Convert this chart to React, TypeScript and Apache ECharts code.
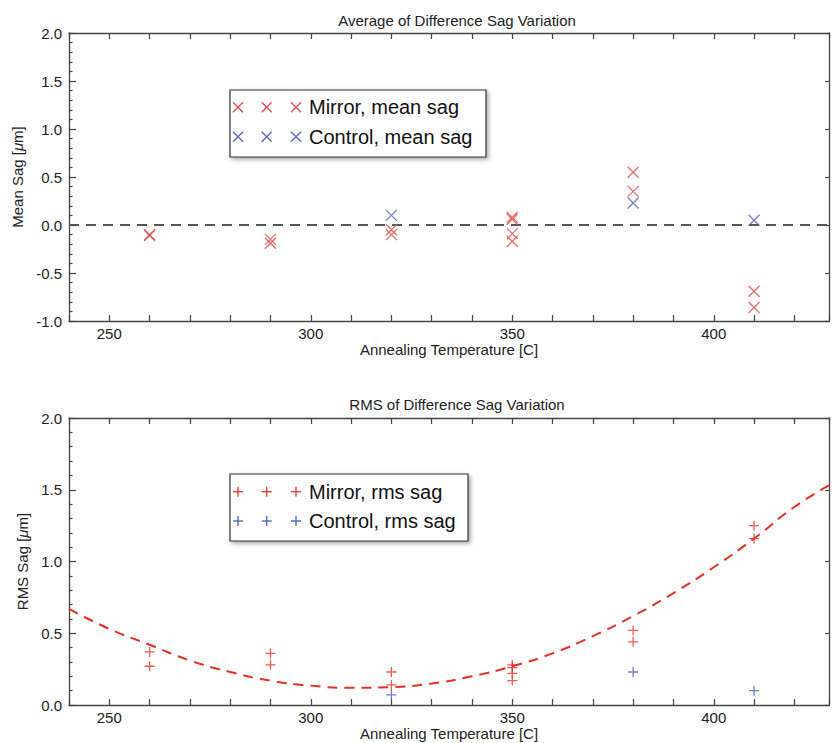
import React, { useEffect, useRef } from 'react';
import * as echarts from 'echarts';

const FONT = '"Liberation Sans", Arial, Helvetica, sans-serif';

// Top panel: mean sag
const mirrorMeanX = [260, 260, 290, 290, 320, 320, 350, 350, 350, 350, 380, 380, 410, 410];
const mirrorMeanY = [-0.10, -0.11, -0.15, -0.19, -0.05, -0.10, 0.08, 0.06, -0.09, -0.17, 0.55, 0.35, -0.69, -0.86];
const controlMeanX = [320, 380, 410];
const controlMeanY = [0.10, 0.23, 0.05];

// Bottom panel: rms sag
const mirrorRmsX = [260, 260, 290, 290, 320, 320, 350, 350, 350, 350, 380, 380, 410, 410];
const mirrorRmsY = [0.37, 0.27, 0.36, 0.28, 0.23, 0.14, 0.28, 0.26, 0.22, 0.17, 0.52, 0.44, 1.25, 1.16];
const controlRmsX = [320, 380, 410];
const controlRmsY = [0.07, 0.23, 0.10];

// Fitted curve
const fitX = [240, 250, 260, 270, 280, 290, 300, 310, 320, 330, 340, 350, 360, 370, 380, 390, 400, 410, 420, 428.6];
const fitY = [0.67, 0.53, 0.42, 0.31, 0.23, 0.17, 0.135, 0.12, 0.125, 0.15, 0.2, 0.27, 0.36, 0.48, 0.62, 0.78, 0.96, 1.16, 1.38, 1.53];

const titles = ['Average of Difference Sag Variation', 'RMS of Difference Sag Variation'];
const xName = 'Annealing Temperature [C]';
const legendTop = ['Mirror, mean sag', 'Control, mean sag'];
const legendBottom = ['Mirror, rms sag', 'Control, rms sag'];

const X_MIN = 240;
const X_MAX = 428.6;

const RED_X = '#e04848';
const BLUE_X = '#5a62b5';
const RED_P = '#e8332c';
const BLUE_P = '#4563b8';

const CROSS = 'path://M0,0L10,10M10,0L0,10';
const PLUS = 'path://M5,0L5,10M0,5L10,5';

const zip = (xs: number[], ys: number[]) => xs.map((x, i) => [x, ys[i]]);

function legendGraphic(
  x: number, y: number, w: number, h: number,
  rowYs: number[], labels: string[], colors: string[], kind: 'x' | '+'
) {
  const els: any[] = [];
  els.push({
    type: 'rect',
    shape: { x, y, width: w, height: h },
    style: {
      fill: '#fff', stroke: '#333', lineWidth: 1.2,
      shadowBlur: 4, shadowOffsetX: 2, shadowOffsetY: 2, shadowColor: 'rgba(0,0,0,0.35)',
    },
    z: 100,
  });
  const mx = [238, 266.7, 296];
  const s = 5;
  rowYs.forEach((ry, r) => {
    mx.forEach((cx) => {
      const segs = kind === 'x'
        ? [[cx - s, ry - s, cx + s, ry + s], [cx + s, ry - s, cx - s, ry + s]]
        : [[cx - s, ry, cx + s, ry], [cx, ry - s, cx, ry + s]];
      segs.forEach((sg) => {
        els.push({
          type: 'line',
          shape: { x1: sg[0], y1: sg[1], x2: sg[2], y2: sg[3] },
          style: { stroke: colors[r], lineWidth: 1.3 },
          z: 101,
        });
      });
    });
    els.push({
      type: 'text',
      x: 309, y: ry,
      style: {
        text: labels[r], fill: '#111', font: `20px ${FONT}`,
        verticalAlign: 'middle', align: 'left',
      },
      z: 101,
    });
  });
  return els;
}

export default function App() {
  const ref = useRef<HTMLDivElement>(null);
  useEffect(() => {
    const chart = echarts.init(ref.current!, null, { renderer: 'svg' });
    const axisLine = { show: true, onZero: false, lineStyle: { color: '#444', width: 1.3 } };
    const tickStyle = { color: '#444', width: 1.2 };
    const labelStyle = { fontFamily: FONT, fontSize: 15, color: '#222' };

    const xBottom = (grid: number) => ({
      type: 'value', gridIndex: grid, position: 'bottom', min: X_MIN, max: X_MAX, interval: 10,
      axisLine, splitLine: { show: false },
      axisTick: { inside: true, length: 6, lineStyle: tickStyle },
      axisLabel: {
        ...labelStyle, margin: 5,
        formatter: (v: number) => (Math.abs(v % 50) < 1e-6 ? String(v) : ''),
      },
      name: xName, nameLocation: 'middle', nameGap: 19,
      nameTextStyle: { ...labelStyle },
    });
    const xTop = (grid: number) => ({
      type: 'value', gridIndex: grid, position: 'top', min: X_MIN, max: X_MAX, interval: 10,
      axisLine, splitLine: { show: false },
      axisTick: { inside: true, length: 6, lineStyle: tickStyle },
      axisLabel: { show: false },
    });
    const yLeft = (grid: number, min: number, name: string, gap: number) => ({
      type: 'value', gridIndex: grid, position: 'left', min, max: 2, interval: 0.5,
      axisLine, splitLine: { show: false },
      axisTick: { inside: true, length: 7, lineStyle: tickStyle },
      minorTick: { show: true, splitNumber: 5, length: 3.5, lineStyle: tickStyle },
      minorSplitLine: { show: false },
      axisLabel: { ...labelStyle, margin: 7, formatter: (v: number) => v.toFixed(1) },
      name, nameLocation: 'middle', nameGap: gap,
      nameTextStyle: {
        ...labelStyle,
        rich: {
          a: { fontFamily: FONT, fontSize: 15, color: '#222' },
          b: { fontFamily: FONT, fontSize: 15, color: '#222', fontStyle: 'italic' },
        },
      },
    });
    const yRight = (grid: number, min: number) => ({
      type: 'value', gridIndex: grid, position: 'right', min, max: 2, interval: 0.5,
      axisLine, splitLine: { show: false },
      axisTick: { inside: true, length: 4, lineStyle: tickStyle },
      axisLabel: { show: false },
    });

    const scatter = (xi: number, data: number[][], symbol: string, color: string, size: number, extra: any = {}) => ({
      type: 'scatter', xAxisIndex: xi, yAxisIndex: xi, data, symbol, symbolSize: size,
      itemStyle: { color: 'rgba(0,0,0,0)', borderColor: color, borderWidth: 1.3 },
      z: 3,
      ...extra,
    });

    const option: any = {
      animation: false,
      backgroundColor: '#fff',
      title: [
        { text: titles[0], left: 452, top: 8, textAlign: 'center', textStyle: { ...labelStyle, fontWeight: 'normal' } },
        { text: titles[1], left: 452, top: 392, textAlign: 'center', textStyle: { ...labelStyle, fontWeight: 'normal' } },
      ],
      grid: [
        { left: 69, right: 1, top: 33, height: 288 },
        { left: 69, right: 1, top: 418, height: 287 },
      ],
      xAxis: [xBottom(0), xTop(0), xBottom(1), xTop(1)],
      yAxis: [
        yLeft(0, -1, '{a|Mean Sag [}{b|μ}{a|m]}', 41),
        yRight(0, -1),
        yLeft(1, 0, '{a|RMS Sag [}{b|μ}{a|m]}', 37),
        yRight(1, 0),
      ],
      series: [
        scatter(0, zip(mirrorMeanX, mirrorMeanY), CROSS, RED_X, 11, {
          markLine: {
            silent: true, symbol: 'none', label: { show: false },
            lineStyle: { type: [10, 7], color: '#555', width: 2 },
            data: [{ yAxis: 0 }],
            z: 1,
          },
        }),
        scatter(0, zip(controlMeanX, controlMeanY), CROSS, BLUE_X, 11),
        {
          type: 'line', xAxisIndex: 2, yAxisIndex: 2, data: zip(fitX, fitY), smooth: true,
          showSymbol: false, symbol: 'none',
          lineStyle: { color: '#e8302a', width: 2, type: [10, 7] }, z: 2,
        },
        scatter(2, zip(mirrorRmsX, mirrorRmsY), PLUS, RED_P, 10),
        scatter(2, zip(controlRmsX, controlRmsY), PLUS, BLUE_P, 10),
      ],
      graphic: [
        ...legendGraphic(230, 90, 256, 67, [107.3, 136.7], legendTop, [RED_X, BLUE_X], 'x'),
        ...legendGraphic(230, 474, 238, 67, [491.7, 521], legendBottom, [RED_P, BLUE_P], '+'),
      ],
    };
    chart.setOption(option);
    return () => chart.dispose();
  }, []);
  return <div ref={ref} style={{ position: 'absolute', left: 0, top: 0, width: 832, height: 743 }} />;
}
